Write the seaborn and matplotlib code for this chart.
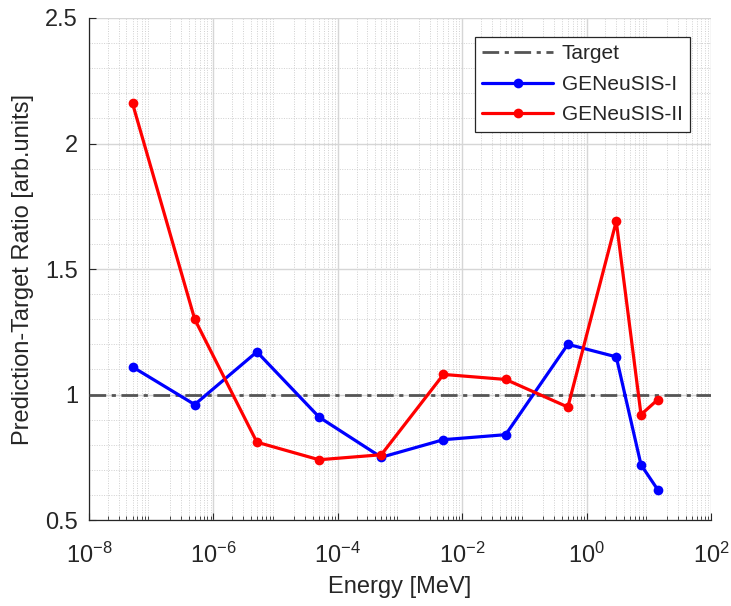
import numpy as np
import pandas as pd
import matplotlib
matplotlib.use("Agg")
import matplotlib.pyplot as plt
import seaborn as sns
from matplotlib.ticker import LogLocator, MultipleLocator, NullFormatter, FuncFormatter

# data
energy = [5e-8, 5e-7, 5e-6, 5e-5, 5e-4, 5e-3, 5e-2, 0.5, 3, 7.5, 14]
ratio_1 = [1.11, 0.96, 1.17, 0.91, 0.75, 0.82, 0.84, 1.20, 1.15, 0.72, 0.62]
ratio_2 = [2.16, 1.30, 0.81, 0.74, 0.76, 1.08, 1.06, 0.95, 1.69, 0.92, 0.98]
series = ["GENeuSIS-I", "GENeuSIS-II"]
colors = ["#0000ff", "#ff0000"]
target = 1.0

df = pd.DataFrame({
    "energy": energy * 2,
    "ratio": ratio_1 + ratio_2,
    "model": [series[0]] * len(energy) + [series[1]] * len(energy),
})

sns.set_style("white")
plt.rcParams["font.family"] = ["Liberation Sans", "DejaVu Sans"]
plt.rcParams["mathtext.fontset"] = "custom"
plt.rcParams["mathtext.rm"] = "Liberation Sans"

fig = plt.figure(figsize=(7.31, 6.06), dpi=100)
ax = fig.add_axes([0.1218, 0.1419, 0.8508, 0.8284])

# target line
ax.axhline(target, color="#555555", lw=2, ls=(0, (6, 2, 1.5, 2)), label="Target", zorder=3)

sns.lineplot(data=df, x="energy", y="ratio", hue="model", palette=colors,
             marker="o", markersize=7, markeredgewidth=0, lw=2.3,
             ax=ax, zorder=4)

ax.set_xscale("log")
ax.set_xlim(1e-8, 1e2)
ax.set_ylim(0.5, 2.5)
ax.set_xticks([1e-8, 1e-6, 1e-4, 1e-2, 1e0, 1e2])
ax.xaxis.set_minor_locator(LogLocator(base=10, subs=np.arange(2, 10), numticks=50))
ax.xaxis.set_minor_formatter(NullFormatter())
ax.yaxis.set_major_locator(MultipleLocator(0.5))
ax.yaxis.set_minor_locator(MultipleLocator(0.1))
ax.yaxis.set_major_formatter(FuncFormatter(lambda v, p: f"{v:g}"))

ax.grid(which="major", color="#d6d6d6", lw=1.0, ls="-")
ax.grid(which="minor", color="#d0d0d0", lw=0.7, ls=(0, (1, 1.5)))
ax.set_axisbelow(True)

for s in ["top", "right"]:
    ax.spines[s].set_visible(False)
for s in ["left", "bottom"]:
    ax.spines[s].set_color("#262626")
    ax.spines[s].set_linewidth(0.9)

ax.tick_params(which="both", direction="in", colors="#262626", labelsize=17,
               top=False, right=False, left=True, bottom=True)
ax.tick_params(which="major", length=5)
ax.tick_params(axis="y", which="major", pad=8)
ax.tick_params(axis="x", which="major", pad=16)
ax.tick_params(which="minor", length=3)
ax.tick_params(axis="y", which="minor", length=0)

ax.set_xlabel("Energy [MeV]", fontsize=17, color="#262626", labelpad=6)
ax.set_ylabel("Prediction-Target Ratio [arb.units]", fontsize=17, color="#262626", labelpad=8)

handles, labels = ax.get_legend_handles_labels()
leg = ax.legend(handles, labels, loc="upper right", bbox_to_anchor=(0.966, 0.962),
                borderaxespad=0, fontsize=15, frameon=True, fancybox=False,
                framealpha=1, edgecolor="#262626", handlelength=3.4,
                borderpad=0.35, labelspacing=0.55, handletextpad=0.4)
leg.get_frame().set_linewidth(0.9)

fig.savefig("out.png", dpi=100)
